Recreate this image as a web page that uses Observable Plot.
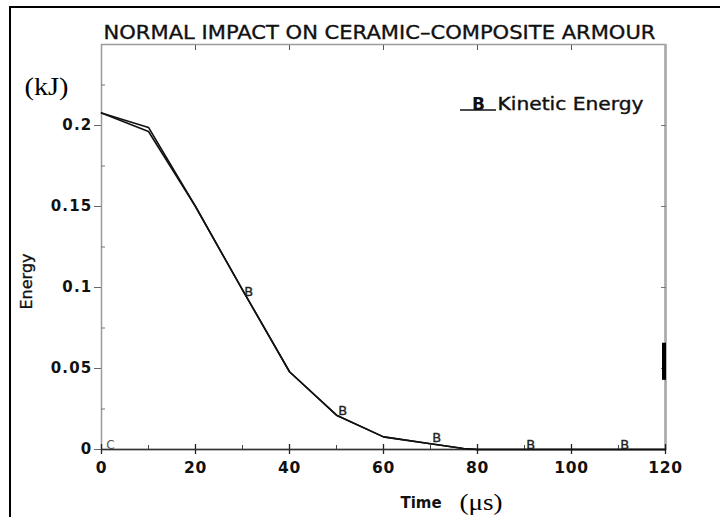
<!DOCTYPE html>
<html>
<head>
<meta charset="utf-8">
<script src="https://cdn.jsdelivr.net/npm/d3@7"></script>
<script src="https://cdn.jsdelivr.net/npm/@observablehq/plot@0.6"></script>
<style>
  html, body { margin: 0; padding: 0; background: #fff; }
  #wrap { position: relative; width: 720px; height: 517px; overflow: hidden; }
  #border { position: absolute; left: 9px; top: 6px; width: 800px; height: 600px;
            border-left: 2px solid #000; border-top: 2px solid #000; pointer-events: none; }
  g[aria-label="y-axis tick label"] text { letter-spacing: 1.2px; }
  g[aria-label="x-axis tick label"] text { letter-spacing: 0.8px; }
</style>
</head>
<body>
<div id="wrap"><div id="border"></div></div>
<script>
// ---- data ----
const times        = [0, 10, 20, 30, 40, 50, 60, 70, 77, 80, 90, 100, 110, 120];
const energyUpper  = [0.2077, 0.1988, 0.150, 0.0985, 0.048, 0.0212, 0.0078, 0.0035, 0.0006, 0, 0, 0, 0, 0];
const energyLower  = [0.2077, 0.1963, 0.150, 0.0985, 0.048, 0.0212, 0.0078, 0.0035, 0.0006, 0, 0, 0, 0, 0];
const markerTimesB  = [31, 51, 71, 91, 111];
const markerEnergyB = [0.094, 0.0205, 0.0038, 0, 0];
const markerTimesC  = [1];
const markerEnergyC = [0];
const xMajorTicks = [0, 20, 40, 60, 80, 100, 120];
const xMinorTicks = [10, 30, 50, 70, 90, 110];
const xTopTicks   = [20, 40, 60, 80, 100];
const yMajorTicks = [0, 0.05, 0.1, 0.15, 0.2];
const yTickLabels = ["0", "0.05", "0.1", "0.15", "0.2"];
const yMinorTicks = [0.025, 0.075, 0.125, 0.175, 0.225];
const barTime = [120];
const barFrom = [0.0427];
const barTo   = [0.0656];
const titleText  = "NORMAL IMPACT ON CERAMIC\u2013COMPOSITE ARMOUR";
const legendText = "Kinetic Energy";

const upper = times.map((t, i) => ({t, e: energyUpper[i]}));
const lower = times.map((t, i) => ({t, e: energyLower[i]}));
const mB = markerTimesB.map((t, i) => ({t, e: markerEnergyB[i]}));
const mC = markerTimesC.map((t, i) => ({t, e: markerEnergyC[i]}));
const bar = barTime.map((t, i) => ({t, y1: barFrom[i], y2: barTo[i]}));

const sans = "DejaVu Sans, sans-serif";
const serif = "Liberation Serif, Times New Roman, serif";

const chart = Plot.plot({
  width: 720, height: 517,
  marginLeft: 101, marginRight: 55, marginTop: 44, marginBottom: 68,
  style: {fontFamily: sans, background: "transparent"},
  x: {domain: [0, 120]},
  y: {domain: [0, 0.25]},
  marks: [
    Plot.frame({stroke: "#9a9a9a", strokeWidth: 1.5}),
    Plot.ruleX([120], {stroke: "#a8a8a8", strokeWidth: 2.5}),
    // y axis left
    Plot.axisY({ticks: yMajorTicks, tickFormat: (d, i) => yTickLabels[i], tickSize: 7, tickPadding: 2,
                fontSize: 15, fontWeight: "bold", stroke: "#666", fill: "#111", label: null}),
    Plot.axisY({ticks: yMinorTicks, tickSize: 4, dx: 4, text: null, stroke: "#777", label: null}),
    // right ticks
    Plot.axisY({anchor: "right", ticks: yMajorTicks, tickSize: 5, dx: -5, text: null, stroke: "#777", label: null}),
    // top ticks
    Plot.axisX({anchor: "top", ticks: xTopTicks, tickSize: 5, dy: 5, text: null, stroke: "#555", label: null}),
    // bottom axis
    Plot.axisX({ticks: xMajorTicks, tickSize: 10, dy: -5, text: null, stroke: "#222", strokeWidth: 1.3, label: null}),
    Plot.axisX({ticks: xMinorTicks, tickSize: 4, dy: -4, text: null, stroke: "#444", label: null}),
    Plot.axisX({ticks: xMajorTicks, tickSize: 0, tickPadding: 12, fontSize: 15.5, fontWeight: "bold",
                fill: "#111", label: null}),
    Plot.ruleY([0], {stroke: "#333", strokeWidth: 1.5}),
    // curves
    Plot.line(upper, {x: "t", y: "e", stroke: "#111", strokeWidth: 1.6}),
    Plot.line(lower, {x: "t", y: "e", stroke: "#111", strokeWidth: 1.6}),
    // markers
    Plot.text(mB, {x: "t", y: "e", text: () => "B", fontSize: 13, fontFamily: sans, lineAnchor: "bottom",
                   dy: -1, dx: 1.5, fill: "#222", stroke: "#222", strokeWidth: 0.35}),
    Plot.text(mC, {x: "t", y: "e", text: () => "C", fontSize: 12, fontFamily: sans, lineAnchor: "bottom",
                   textAnchor: "start", dx: 0, dy: -1, fill: "#555"}),
    // artifact bar on the right edge
    Plot.ruleX(bar, {x: "t", y1: "y1", y2: "y2", stroke: "#000", strokeWidth: 4, dx: -1.5}),
    // annotations
    Plot.text([titleText], {frameAnchor: "top", text: d => d, dx: -4, dy: -6, lineAnchor: "bottom",
                            fontSize: 19, fontFamily: sans, fill: "#111", stroke: "#111", strokeWidth: 0.35}),
    Plot.text(["(kJ)"], {frameAnchor: "top-left", text: d => d, dx: -55, dy: 50, lineAnchor: "bottom",
                         textAnchor: "middle", fontSize: 25, fontFamily: serif, fill: "#000"}),
    Plot.text(["Energy"], {frameAnchor: "left", text: d => d, dx: -75, dy: 34.5, rotate: -90,
                           textAnchor: "middle", lineAnchor: "middle", fontSize: 16, fontFamily: sans,
                           fill: "#111", stroke: "#111", strokeWidth: 0.3}),
    Plot.text(["Time"], {frameAnchor: "bottom", text: d => d, dx: 37.5, dy: 58, lineAnchor: "bottom",
                         textAnchor: "middle", fontSize: 15, fontWeight: "bold", fontFamily: sans, fill: "#111"}),
    Plot.text(["(\u03bcs)"], {frameAnchor: "bottom", text: d => d, dx: 97.5, dy: 60, lineAnchor: "bottom",
                         textAnchor: "middle", fontSize: 23, fontFamily: serif, fill: "#000"}),
    Plot.text([legendText], {frameAnchor: "top-left", text: d => d, dx: 396, dy: 65, lineAnchor: "bottom",
                             textAnchor: "start", fontSize: 18, fontFamily: sans, fill: "#111",
                             stroke: "#111", strokeWidth: 0.4}),
    Plot.text(["B"], {frameAnchor: "top-left", text: d => d, dx: 377, dy: 65, lineAnchor: "bottom",
                      textAnchor: "middle", fontSize: 17, fontWeight: "bold", fontFamily: sans, fill: "#111"})
  ]
});

// stretch selected texts to their measured widths
const lengths = new Map([[titleText, 552], ["(kJ)", 44], ["(\u03bcs)", 43], [legendText, 146]]);
chart.querySelectorAll("text").forEach(t => {
  const L = lengths.get(t.textContent);
  if (L) { t.setAttribute("textLength", L); t.setAttribute("lengthAdjust", "spacingAndGlyphs"); }
});
// legend swatch line under the "B"
d3.select(chart).append("line")
  .attr("x1", 460).attr("x2", 496).attr("y1", 110).attr("y2", 110)
  .attr("stroke", "#111").attr("stroke-width", 1.6);

document.getElementById("wrap").prepend(chart);
</script>
</body>
</html>
